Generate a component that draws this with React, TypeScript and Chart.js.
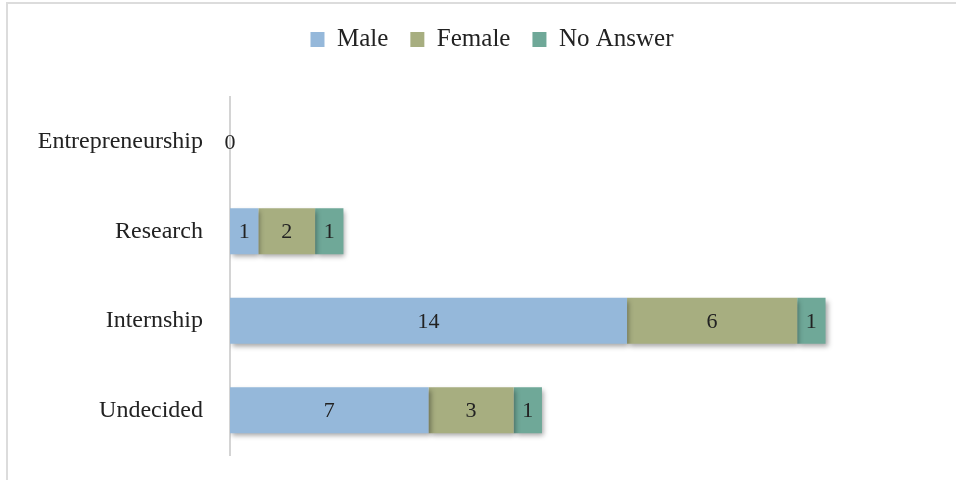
import React, { useEffect, useRef } from "react";
import { Chart, registerables } from "chart.js";

Chart.register(...registerables);

const categories = ["Entrepreneurship", "Research", "Internship", "Undecided"];
const seriesNames = ["Male", "Female", "No Answer"];
const maleValues = [0, 1, 14, 7];
const femaleValues = [null, 2, 6, 3];
const noAnswerValues = [null, 1, 1, 1];
const seriesColors = ["#95b8da", "#a7ae80", "#6fa898"];
const axisMax = 25.6;

const FONT = "'Liberation Serif', 'DejaVu Serif', serif";

const shadowPlugin = {
  id: "barShadow",
  beforeDatasetsDraw(chart: any) {
    const ctx = chart.ctx;
    ctx.save();
    ctx.shadowColor = "rgba(0,0,0,0.35)";
    ctx.shadowBlur = 5;
    ctx.shadowOffsetX = 2;
    ctx.shadowOffsetY = 3;
  },
  afterDatasetsDraw(chart: any) {
    const ctx = chart.ctx;
    ctx.restore();
    ctx.save();
    ctx.fillStyle = "#222";
    ctx.font = `22px ${FONT}`;
    ctx.textAlign = "center";
    ctx.textBaseline = "middle";
    chart.data.datasets.forEach((ds: any, di: number) => {
      const meta = chart.getDatasetMeta(di);
      meta.data.forEach((bar: any, i: number) => {
        const v = ds.data[i];
        if (v === null || v === undefined) return;
        const p = bar.getProps(["x", "y", "base"], true);
        const cx = (p.x + p.base) / 2;
        ctx.fillText(String(v), cx, p.y + 1);
      });
    });
    ctx.restore();
  },
};

export default function App() {
  const ref = useRef<HTMLCanvasElement | null>(null);
  useEffect(() => {
    if (!ref.current) return;
    const chart = new Chart(ref.current, {
      type: "bar",
      data: {
        labels: categories,
        datasets: [
          { label: seriesNames[0], data: maleValues, backgroundColor: seriesColors[0] },
          { label: seriesNames[1], data: femaleValues, backgroundColor: seriesColors[1] },
          { label: seriesNames[2], data: noAnswerValues, backgroundColor: seriesColors[2] },
        ],
      },
      options: {
        indexAxis: "y",
        responsive: false,
        animation: false,
        layout: { padding: { left: 28, right: 0, top: 5, bottom: 25 } },
        datasets: {
          bar: { categoryPercentage: 1, barPercentage: 0.515 },
        },
        scales: {
          x: { stacked: true, display: false, min: 0, max: axisMax },
          y: {
            stacked: true,
            grid: { display: false, drawTicks: false },
            border: { display: true, color: "#d4d4d4", width: 2 },
            ticks: {
              padding: 27,
              color: "#222",
              font: { family: FONT, size: 24 },
            },
            afterFit(scale: any) {
              scale.width = 202;
              scale.paddingTop = 0;
              scale.paddingBottom = 0;
            },
          },
        },
        plugins: {
          tooltip: { enabled: false },
          title: {
            display: true,
            text: " ",
            position: "top",
            weight: 500,
            font: { size: 10 },
            padding: { top: 23, bottom: 0 },
          },
          legend: {
            position: "top",
            labels: {
              boxWidth: 14,
              boxHeight: 15,
              padding: 22,
              color: "#222",
              font: { family: FONT, size: 25 },
            },
          },
        },
      },
      plugins: [shadowPlugin],
    });
    return () => chart.destroy();
  }, []);

  return (
    <div style={{ position: "fixed", left: 0, top: 0, width: 956, height: 480, background: "#fff", overflow: "hidden" }}>
      <div
        style={{
          position: "absolute",
          left: 6,
          top: 2,
          right: -10,
          bottom: -10,
          borderTop: "2px solid #dcdcdc",
          borderLeft: "2px solid #dcdcdc",
        }}
      />
      <canvas ref={ref} width={956} height={480} style={{ position: "absolute", left: 0, top: 0 }} />
    </div>
  );
}
